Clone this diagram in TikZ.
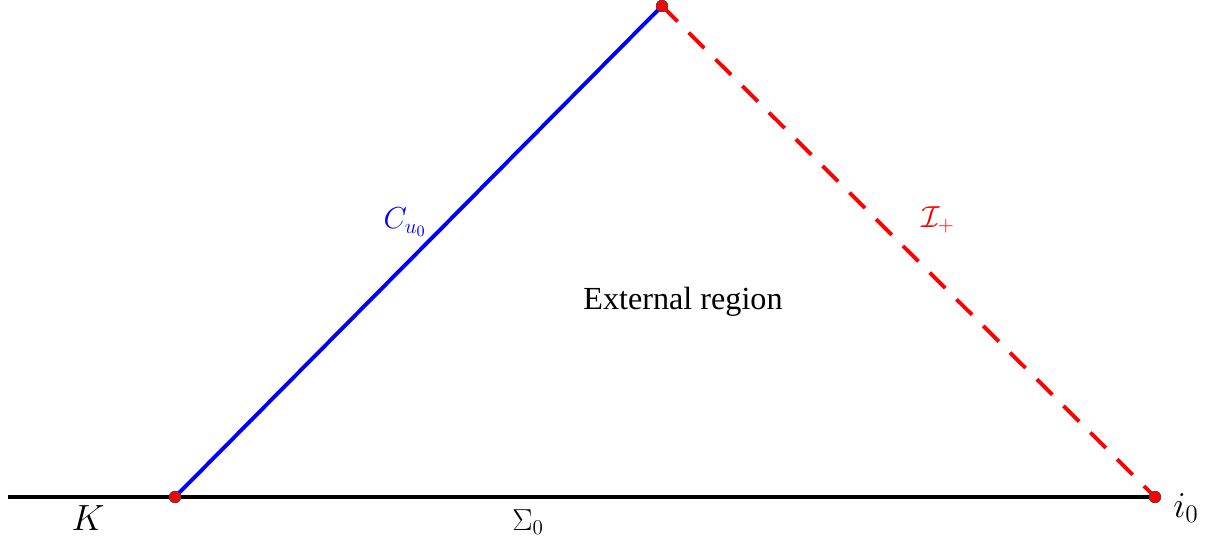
\documentclass[tikz,border=0pt]{standalone}
\usepackage{amsmath}
\usepackage{fontspec}
\setmainfont{Liberation Serif}
\usepackage{tikz}
\usetikzlibrary{positioning}
\tikzset{
    pt/.style={circle, fill=red, draw=black!70, line width=0.4pt, inner sep=0pt, minimum size=2.3mm},
    lbl/.style={font=\fontsize{18}{20}\selectfont},
}

\begin{document}
\begin{tikzpicture}
            \useasboundingbox (0,0) rectangle (24.2,10.86);
            \coordinate (west) at (0.16,0.92);
            \node [pt] (k) at (3.5,0.92) {};
            \node [pt] (top) at (13.24,10.74) {};
            \node [pt] (i) at (23.1,0.92) {};
            % lines
            \draw [line width=2.2pt] (west) -- (i.center);
            \draw [blue, line width=2.2pt] (k.center) -- (top.center);
            \draw [red, line width=2.2pt, dash pattern=on 12.5pt off 9pt] (top.center) -- (i.center);
            \node [pt] at (k) {};
            \node [pt] at (top) {};
            \node [pt] at (i) {};
            % labels
            \node [font=\fontsize{20.5}{23}\selectfont] (klabel) at (1.76,0.5) {$K$};
            \node [lbl] (sigma) at (10.56,0.42) {$\Sigma_0$};
            \node [font=\fontsize{21}{24}\selectfont] (ilabel) at (23.72,0.7) {$i_0$};
            \node [lbl, blue] (cone) at (8.1,6.42) {$C_{u_0}$};
            \node [lbl, red] (scri) at (18.76,6.46) {$\mathcal{I}_+$};
            \node [font=\fontsize{18.3}{20}\selectfont] (ext) at (13.66,4.82) {External region};
        \end{tikzpicture}
\end{document}
